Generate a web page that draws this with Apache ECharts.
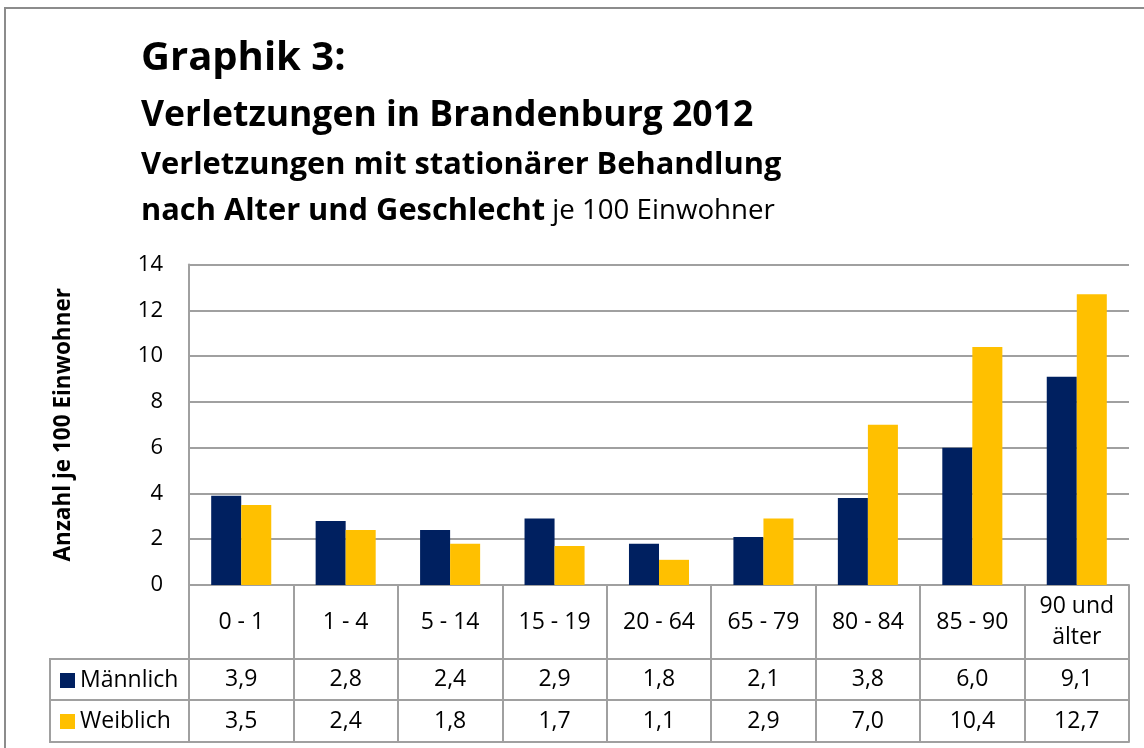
<!DOCTYPE html>
<html>
<head>
<meta charset="utf-8">
<script src="https://cdn.jsdelivr.net/npm/echarts@6/dist/echarts.min.js"></script>
<style>
html,body{margin:0;padding:0;background:#fff;}
#chart{width:1144px;height:748px;}
</style>
</head>
<body>
<div id="chart"></div>
<script>
const categories = ['0 - 1','1 - 4','5 - 14','15 - 19','20 - 64','65 - 79','80 - 84','85 - 90','90 und\nälter'];
const seriesNames = ['Männlich','Weiblich'];
const maennlich = [3.9, 2.8, 2.4, 2.9, 1.8, 2.1, 3.8, 6.0, 9.1];
const weiblich  = [3.5, 2.4, 1.8, 1.7, 1.1, 2.9, 7.0, 10.4, 12.7];
const yTicks = [0, 2, 4, 6, 8, 10, 12, 14];

const FONT = '"Open Sans"';
const GRID = '#a0a0a0';
const fmt = v => v.toFixed(1).replace('.', ',');

const chart = echarts.init(document.getElementById('chart'));

function tableAxis(data, offset, len, margin, showLabel) {
  return {
    type: 'category',
    gridIndex: 0,
    position: 'bottom',
    offset: offset,
    data: data,
    axisLine: { show: true, lineStyle: { color: GRID, width: 2 } },
    axisTick: { show: len > 0, length: len, interval: 0, lineStyle: { color: GRID, width: 2 } },
    axisLabel: {
      show: showLabel, interval: 0, margin: margin, verticalAlign: 'middle',
      color: '#000', fontFamily: FONT, fontSize: 23, lineHeight: 31
    },
    splitLine: { show: false }
  };
}

const option = {
  animation: false,
  backgroundColor: '#fff',
  color: ['#002060', '#FFC000'],
  title: [
    { text: 'Graphik 3:', left: 141, top: 59 - 20, padding: 0,
      textStyle: { fontFamily: FONT, fontWeight: 'bold', fontSize: 40, lineHeight: 40, color: '#000' } },
    { text: 'Verletzungen in Brandenburg 2012', left: 141, top: 116 - 17.75, padding: 0,
      textStyle: { fontFamily: FONT, fontWeight: 'bold', fontSize: 35.5, lineHeight: 35.5, color: '#000' } },
    { text: 'Verletzungen mit stationärer Behandlung', left: 141, top: 165 - 15.4, padding: 0,
      textStyle: { fontFamily: FONT, fontWeight: 'bold', fontSize: 30.8, lineHeight: 30.8, color: '#000' } },
    { text: '{b|nach Alter und Geschlecht}{r| je 100 Einwohner}', left: 141, top: 211 - 15.4, padding: 0,
      textStyle: { fontFamily: FONT, fontSize: 30.8, lineHeight: 30.8, color: '#000',
        rich: {
          b: { fontFamily: FONT, fontWeight: 'bold', fontSize: 30.8, lineHeight: 30.8, color: '#000' },
          r: { fontFamily: FONT, fontWeight: 'normal', fontSize: 27.7, lineHeight: 30.8, color: '#000' }
        } } }
  ],
  legend: {
    data: seriesNames,
    orient: 'vertical',
    left: 60,
    top: 669,
    itemWidth: 15,
    itemHeight: 15,
    itemGap: 18,
    icon: 'rect',
    padding: 0,
    textStyle: { fontFamily: FONT, fontSize: 23, lineHeight: 23, color: '#000' }
  },
  grid: { left: 189, right: 15, top: 264.5, bottom: 163, containLabel: false },
  xAxis: [
    tableAxis(categories, 0, 74, 37, true),
    tableAxis(maennlich.map(fmt), 74, 41, 20.5, true),
    tableAxis(weiblich.map(fmt), 115, 42, 21, true),
    tableAxis(categories.map(() => ''), 157, 0, 0, false)
  ],
  yAxis: {
    type: 'value',
    min: yTicks[0],
    max: yTicks[yTicks.length - 1],
    interval: 2,
    name: 'Anzahl je 100 Einwohner',
    nameLocation: 'middle',
    nameRotate: 90,
    nameGap: 114,
    nameTextStyle: { fontFamily: FONT, fontWeight: 'bold', fontSize: 22.5, color: '#000' },
    axisLine: { show: true, lineStyle: { color: GRID, width: 2 } },
    axisTick: { show: false },
    axisLabel: { margin: 26, color: '#000', fontFamily: FONT, fontSize: 22 },
    splitLine: { show: true, lineStyle: { color: GRID, width: 2 } }
  },
  series: [
    { name: seriesNames[0], type: 'bar', data: maennlich, xAxisIndex: 0,
      barGap: '0%', barCategoryGap: '42.5%' },
    { name: seriesNames[1], type: 'bar', data: weiblich, xAxisIndex: 0,
      barGap: '0%', barCategoryGap: '42.5%' }
  ],
  graphic: [
    { type: 'rect', z: -10, silent: true,
      shape: { x: 5, y: 8, width: 1200, height: 800 },
      style: { fill: 'none', stroke: '#8c8c8c', lineWidth: 2 } },
    { type: 'rect', z: 10, silent: true,
      shape: { x: 50, y: 659, width: 139, height: 83 },
      style: { fill: 'none', stroke: GRID, lineWidth: 2 } },
    { type: 'line', z: 10, silent: true,
      shape: { x1: 50, y1: 700, x2: 189, y2: 700 },
      style: { stroke: GRID, lineWidth: 2 } }
  ]
};
chart.setOption(option);
</script>
</body>
</html>
